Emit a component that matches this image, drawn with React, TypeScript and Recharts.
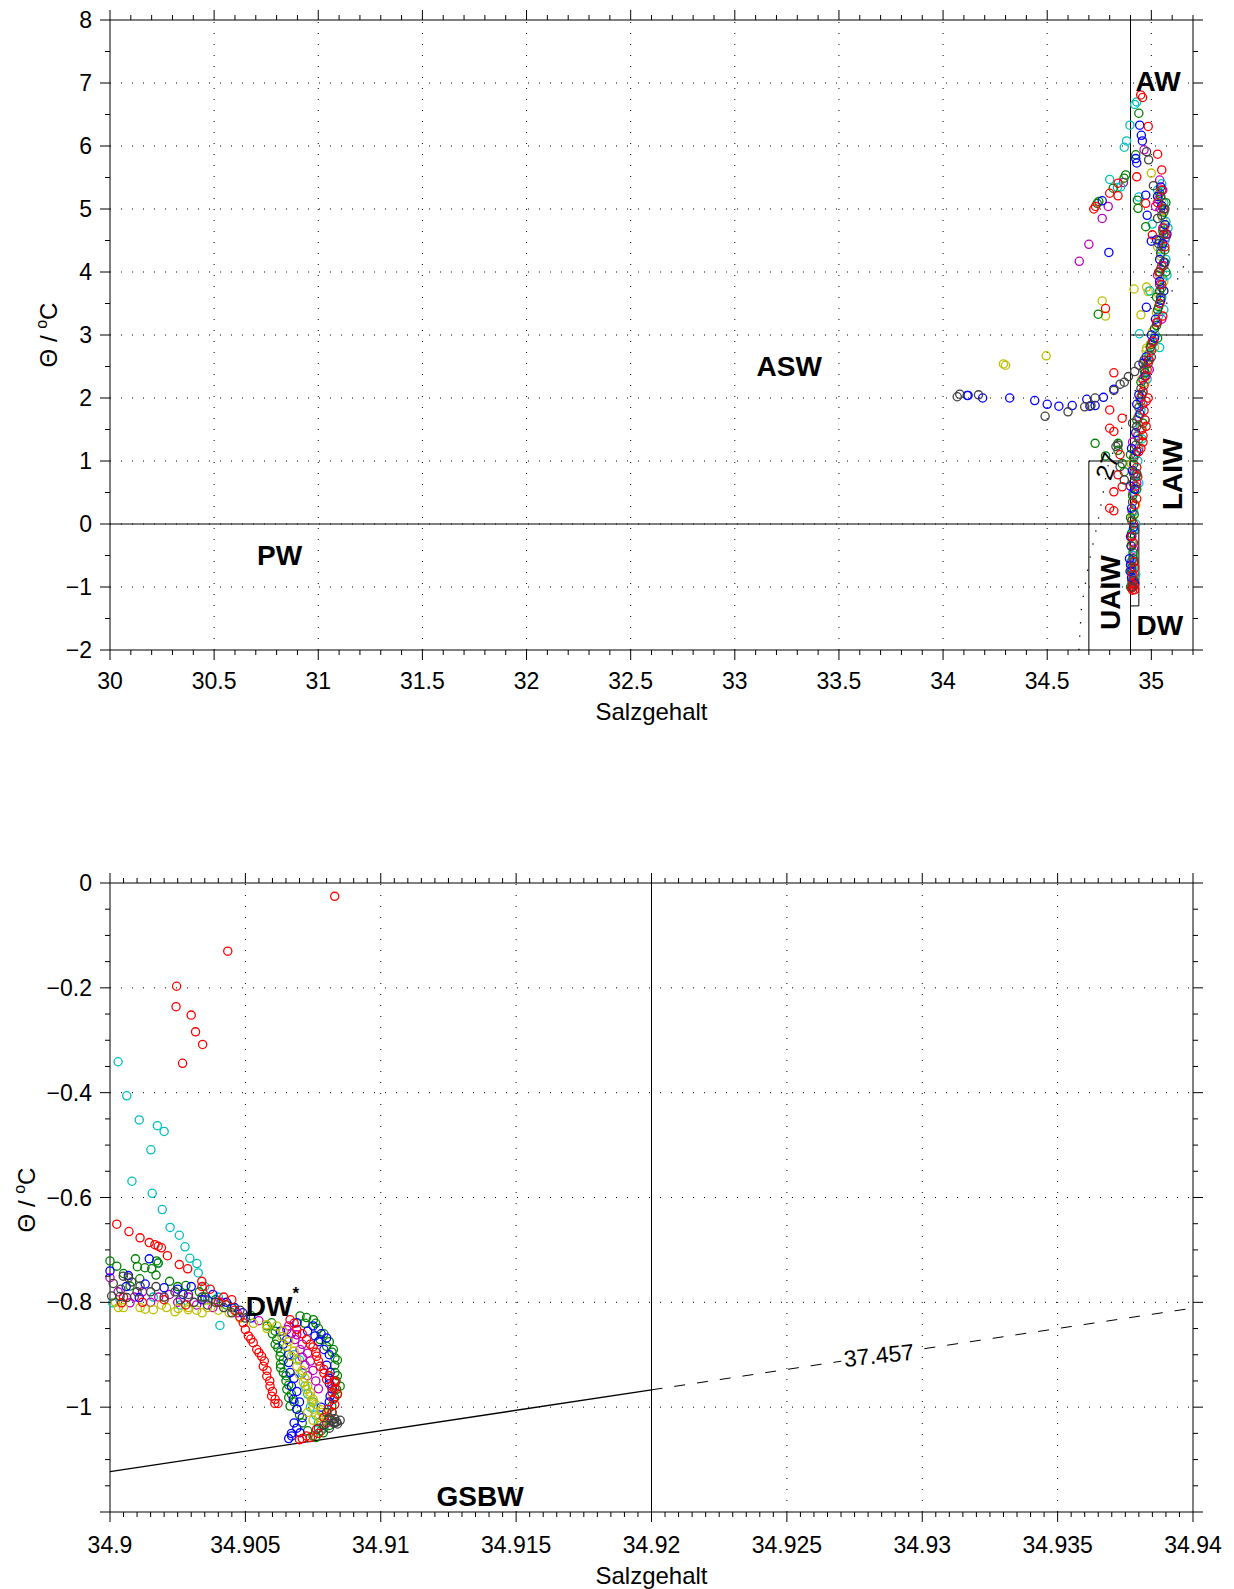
import React from "react";
import { ScatterChart, Scatter, XAxis, YAxis, ReferenceLine, ReferenceDot, Label } from "recharts";

type Pt = [number, number];

// ---------- oberes Diagramm (Salzgehalt 30..35.2, Theta -2..8) ----------
const TOP_RED: Pt[] = [
  [34.949, 6.81], [34.958, 6.77], [34.985, 6.31], [35.03, 5.87], [34.93, 5.51], [35.05, 5.62], [34.84, 5.41],
  [34.8, 5.25], [34.84, 5.21], [34.732, 5.04], [34.724, 5.0], [34.973, 5.09], [35.005, 4.59], [34.78, 3.42],
  [34.82, 2.4], [34.8, 1.81], [34.86, 1.68], [34.8, 1.52], [34.82, 1.47], [34.85, 1.1], [34.84, 0.78],
  [34.82, 0.51], [34.86, 0.59], [34.8, 0.25], [34.82, 0.21],
  [35.05, 5.3], [35.06, 5.0], [35.06, 4.7], [35.065, 4.4], [35.05, 4.1], [35.05, 3.8], [35.04, 3.5],
  [35.025, 3.2], [35.01, 2.9], [34.99, 2.6], [34.975, 2.35], [34.965, 2.2], [34.96, 2.1], [34.975, 1.95],
  [34.965, 1.8], [34.97, 1.65], [34.955, 1.5], [34.96, 1.4], [34.96, 1.3], [34.94, 1.15], [34.93, 0.9],
  [34.925, 0.6], [34.92, 0.3], [34.915, 0.0], [34.915, -0.3], [34.915, -0.6], [34.912, -0.8], [34.915, -0.9],
  [34.91, -0.95], [34.912, -1.0], [34.91, -1.05], [34.905, -1.02],
  [35.03, 5.1], [35.07, 4.6], [35.035, 4.0], [35.055, 3.3], [35.0, 2.75], [34.98, 2.45], [34.985, 2.0],
  [34.975, 1.55], [34.95, 1.2], [34.935, 0.75], [34.93, 0.4], [34.905, -0.2], [34.92, -0.7], [34.918, -0.98],
  [34.92, -1.04],
];
const TOP_BLUE: Pt[] = [
  [34.944, 6.33], [34.952, 6.17], [34.957, 6.08], [34.925, 5.8], [34.93, 5.73], [34.764, 5.13], [34.796, 4.31],
  [34.973, 5.22], [34.98, 4.9], [35.0, 4.49], [35.025, 4.51], [34.976, 3.44], [34.116, 2.04], [34.12, 2.04],
  [34.19, 2.0], [34.32, 2.0], [34.44, 1.96], [34.5, 1.9], [34.556, 1.87], [34.62, 1.88], [34.69, 1.98],
  [34.705, 1.87], [34.73, 1.88], [34.77, 2.01], [34.82, 2.14],
  [35.045, 5.35], [35.05, 5.05], [35.065, 4.75], [35.055, 4.45], [35.06, 4.15], [35.04, 3.85], [35.045, 3.55],
  [35.02, 3.25], [35.015, 2.95], [34.975, 2.65], [34.97, 2.35], [34.94, 2.05], [34.945, 1.75], [34.925, 1.45],
  [34.93, 1.15], [34.91, 0.85], [34.92, 0.55], [34.905, 0.25], [34.915, -0.05], [34.903, -0.35], [34.895, -0.55],
  [34.9, -0.65], [34.905, -0.85], [34.91, -1.0],
  [35.03, 5.2], [35.075, 4.6], [35.04, 4.2], [35.06, 3.7], [35.0, 3.0], [34.96, 2.55], [34.93, 1.9],
  [34.905, 1.2], [34.9, 0.6], [34.9, -0.2], [34.898, -0.75], [34.92, -0.95],
];
const TOP_GREEN: Pt[] = [
  [34.94, 6.52], [34.925, 5.86], [34.877, 5.54], [34.869, 5.49], [34.817, 5.33], [34.748, 5.12], [34.74, 5.09],
  [34.933, 5.14], [34.936, 5.01], [34.973, 4.72], [34.745, 3.33], [34.73, 1.28], [34.78, 1.08], [34.84, 1.28],
  [34.84, 1.17], [34.86, 0.96], [34.87, 0.83],
  [35.04, 5.25], [35.06, 4.95], [35.055, 4.65], [35.065, 4.35], [35.045, 4.05], [35.05, 3.75], [35.035, 3.45],
  [35.025, 3.15], [35.0, 2.85], [34.985, 2.55], [34.95, 2.25], [34.95, 1.95], [34.93, 1.65], [34.94, 1.35],
  [34.915, 1.05], [34.925, 0.75], [34.91, 0.45], [34.918, 0.15], [34.905, -0.15], [34.912, -0.45], [34.904, -0.75],
  [34.91, -0.95],
  [35.07, 5.1], [35.04, 4.5], [35.07, 4.0], [35.025, 3.6], [35.03, 2.95], [34.97, 2.4], [34.96, 1.6],
  [34.9, 1.1], [34.93, 0.55], [34.9, 0.1], [34.918, -0.6], [34.9, -1.0],
];
const TOP_CYAN: Pt[] = [
  [34.93, 6.7], [34.92, 6.66], [34.897, 6.33], [34.881, 6.08], [34.87, 5.98], [34.8, 5.47], [34.853, 5.35],
  [34.837, 5.34], [34.94, 5.19], [35.005, 4.76], [34.993, 3.7], [34.943, 3.02],
  [35.05, 5.4], [35.06, 5.1], [35.07, 4.8], [35.065, 4.5], [35.07, 4.2], [35.055, 3.9], [35.05, 3.6],
  [35.035, 3.3], [35.02, 3.0], [34.99, 2.7], [34.97, 2.4], [34.96, 2.1], [34.95, 1.8], [34.945, 1.5],
  [34.94, 1.2], [34.935, 1.0], [34.925, 0.8], [34.92, 0.5], [34.915, 0.2], [34.912, -0.1], [34.91, -0.3],
  [34.912, -0.5], [34.913, -0.7], [34.912, -0.85], [34.914, -1.0],
  [35.03, 5.3], [35.08, 4.7], [35.045, 4.35], [35.075, 3.95], [35.06, 3.4], [35.04, 2.8], [34.98, 2.3],
  [34.97, 1.65], [34.955, 1.35], [34.94, 0.65], [34.925, 0.0], [34.902, -0.6], [34.925, -0.8], [34.905, -0.95],
];
const TOP_MAGENTA: Pt[] = [
  [34.965, 5.94], [35.04, 5.46], [34.866, 5.42], [34.793, 5.04], [34.764, 4.85], [34.7, 4.44], [34.654, 4.17],
  [35.02, 5.04],
  [35.055, 5.3], [35.045, 5.0], [35.055, 4.7], [35.05, 4.4], [35.06, 4.1], [35.04, 3.8], [35.04, 3.5],
  [35.03, 3.2], [35.005, 2.9], [34.985, 2.6], [34.96, 2.3], [34.95, 2.0], [34.94, 1.7], [34.935, 1.4],
  [34.925, 1.1], [34.915, 0.8], [34.912, 0.5], [34.908, 0.2], [34.906, -0.2], [34.905, -0.6], [34.906, -0.9],
  [35.035, 5.15], [35.07, 4.55], [35.03, 3.95], [35.05, 3.25], [34.99, 2.45], [34.96, 1.9], [34.91, 1.3],
  [34.93, 0.65], [34.915, -0.4], [34.91, -0.75],
];
const TOP_YELLOW: Pt[] = [
  [35.0, 5.57], [34.917, 3.73], [34.977, 3.76], [34.985, 3.69], [34.764, 3.54], [34.78, 3.3], [34.95, 3.32],
  [34.977, 2.79], [34.495, 2.67], [34.3, 2.52], [34.29, 2.54],
  [35.05, 5.15], [35.055, 4.85], [35.05, 4.55], [35.045, 4.25], [35.04, 3.95], [35.035, 3.65], [35.025, 3.35],
  [35.005, 3.05], [34.995, 2.85], [34.975, 2.75], [34.985, 2.7], [34.975, 2.6], [34.97, 2.5], [34.955, 2.3],
  [34.945, 2.0], [34.935, 1.7], [34.93, 1.4], [34.92, 1.1], [34.915, 0.8], [34.91, 0.45], [34.908, 0.1],
  [34.906, -0.3], [34.905, -0.7], [34.908, -0.95],
  [35.07, 4.75], [35.03, 4.4], [35.06, 3.85], [35.015, 2.8], [34.97, 2.25], [34.95, 1.5], [34.905, 0.95],
  [34.925, 0.3], [34.915, -0.5], [34.915, -0.85],
];
const TOP_GRAY: Pt[] = [
  [34.977, 5.91], [34.987, 5.78], [35.01, 5.37], [35.03, 4.85], [34.068, 2.02], [34.08, 2.06], [34.17, 2.05],
  [34.49, 1.71], [34.6, 1.78], [34.68, 1.86], [34.71, 1.88], [34.73, 2.0], [34.82, 2.12], [34.85, 2.22],
  [34.87, 2.25], [34.89, 2.34], [34.92, 2.42], [34.94, 2.52], [34.965, 2.6], [34.83, 1.23], [34.84, 1.25],
  [34.85, 0.91], [34.87, 0.7],
  [35.045, 5.2], [35.05, 4.9], [35.06, 4.6], [35.045, 4.3], [35.04, 4.0], [35.04, 3.7], [35.03, 3.4],
  [35.015, 3.1], [34.995, 2.8], [34.965, 2.45], [34.95, 2.15], [34.94, 1.85], [34.93, 1.55], [34.925, 1.25],
  [34.915, 0.95], [34.912, 0.65], [34.91, 0.35], [34.906, 0.05], [34.904, -0.35], [34.905, -0.7], [34.907, -1.0],
  [35.065, 5.0], [35.035, 4.45], [35.065, 4.15], [35.045, 3.6], [35.0, 2.65], [34.955, 2.05], [34.91, 1.6],
  [34.93, 0.8], [34.92, -0.1], [34.912, -0.55], [34.915, -0.9],
];

// ---------- unteres Diagramm (Salzgehalt 34.9..34.94, Theta -1.2..0) ----------
const BOT_RED: Pt[] = [
  [34.9083, -0.0255], [34.90435, -0.13], [34.90246, -0.197], [34.90244, -0.236], [34.903, -0.252], [34.90316, -0.284],
  [34.90342, -0.308], [34.90268, -0.344], [34.90025, -0.651], [34.9007, -0.665], [34.90111, -0.677], [34.90145, -0.686],
  [34.90166, -0.69], [34.90178, -0.693], [34.9019, -0.696], [34.90212, -0.711], [34.90256, -0.728], [34.90287, -0.736],
  [34.90339, -0.76], [34.90043, -0.801], [34.9037, -0.775], [34.9042, -0.79], [34.9046, -0.815], [34.9048, -0.828],
  [34.90492, -0.839], [34.905, -0.852], [34.90511, -0.864], [34.9052, -0.87], [34.90529, -0.877], [34.90542, -0.89],
  [34.9055, -0.896], [34.9056, -0.903], [34.9057, -0.912], [34.90566, -0.922], [34.9058, -0.93], [34.90579, -0.941],
  [34.9059, -0.95], [34.90591, -0.96], [34.906, -0.97], [34.90597, -0.979], [34.9061, -0.985], [34.90609, -0.993],
  [34.90621, -0.993],
  [34.90665, -0.833], [34.9069, -0.852], [34.90726, -0.871], [34.9075, -0.885], [34.90763, -0.903], [34.90776, -0.922],
  [34.9079, -0.935], [34.908, -0.947], [34.90819, -0.96], [34.9082, -0.972], [34.90825, -0.985], [34.90806, -1.004],
  [34.9079, -1.02], [34.90763, -1.042], [34.90726, -1.055], [34.9071, -1.06], [34.90832, -0.953], [34.9083, -0.965],
  [34.9005, -0.79], [34.9012, -0.8], [34.902, -0.795], [34.9028, -0.805], [34.9034, -0.77], [34.904, -0.8],
  [34.9045, -0.795],
  [34.9068, -0.84], [34.9071, -0.86], [34.9074, -0.88], [34.9076, -0.895], [34.9077, -0.912], [34.9079, -0.928],
  [34.9081, -0.94], [34.9083, -0.95], [34.9084, -0.975], [34.9083, -0.995], [34.9082, -1.01], [34.908, -1.03],
  [34.9077, -1.05], [34.9074, -1.058], [34.907, -1.062],
];
const BOT_CYAN: Pt[] = [
  [34.9003, -0.341], [34.90062, -0.406], [34.90108, -0.452], [34.90175, -0.463], [34.902, -0.474], [34.90151, -0.509],
  [34.90081, -0.569], [34.90156, -0.592], [34.90193, -0.623], [34.90222, -0.657], [34.90256, -0.672], [34.90277, -0.694],
  [34.90295, -0.716], [34.90321, -0.726], [34.90326, -0.744], [34.9001, -0.801], [34.90178, -0.725], [34.9035, -0.77],
  [34.904, -0.79], [34.9045, -0.81], [34.90406, -0.844], [34.9068, -0.9], [34.9072, -0.96], [34.9074, -1.0],
  [34.9077, -1.03],
  [34.9016, -0.79], [34.9026, -0.805], [34.9036, -0.795],
  [34.907, -0.91], [34.9071, -0.935], [34.9073, -0.975], [34.9075, -0.99], [34.9076, -1.015], [34.9079, -1.04],
];
const BOT_GREEN: Pt[] = [
  [34.9, -0.721], [34.90025, -0.731], [34.90094, -0.717], [34.90101, -0.732], [34.90129, -0.734], [34.90154, -0.736],
  [34.90172, -0.721], [34.90178, -0.725], [34.90074, -0.769], [34.9025, -0.77], [34.9035, -0.79], [34.9045, -0.81],
  [34.9052, -0.825], [34.90597, -0.839], [34.9061, -0.855], [34.90616, -0.871], [34.9062, -0.887], [34.90628, -0.903],
  [34.9063, -0.918], [34.9064, -0.934], [34.9065, -0.95], [34.90653, -0.966], [34.9066, -0.982], [34.90665, -0.998],
  [34.9069, -1.004], [34.90702, -0.826], [34.90726, -0.829], [34.90751, -0.833], [34.9077, -0.85], [34.90776, -0.871],
  [34.908, -0.884], [34.90825, -0.89], [34.90831, -0.906], [34.9083, -0.92], [34.90831, -0.934], [34.90835, -0.95],
  [34.90837, -0.966], [34.9083, -0.982], [34.90819, -0.998], [34.90806, -1.023], [34.90788, -1.049], [34.9076, -1.058],
  [34.9005, -0.745], [34.9011, -0.755], [34.9017, -0.748], [34.9022, -0.76], [34.9028, -0.768], [34.9033, -0.78],
  [34.9039, -0.795], [34.9043, -0.805],
  [34.9058, -0.845], [34.906, -0.86], [34.9061, -0.88], [34.9063, -0.895], [34.9064, -0.91], [34.9063, -0.925],
  [34.9065, -0.94], [34.9066, -0.958], [34.9067, -0.975], [34.9068, -0.99], [34.907, -1.015], [34.9071, -1.03],
  [34.9073, -1.045], [34.9075, -1.055],
  [34.9072, -0.84], [34.9076, -0.84], [34.9079, -0.86], [34.9081, -0.875], [34.9082, -0.895], [34.9084, -0.91],
  [34.9084, -0.94], [34.9085, -0.96], [34.9084, -0.975], [34.9082, -1.01], [34.9081, -1.035], [34.9078, -1.045],
];
const BOT_BLUE: Pt[] = [
  [34.90145, -0.717], [34.9, -0.74], [34.90068, -0.749], [34.90108, -0.791], [34.9025, -0.775], [34.9034, -0.795],
  [34.9043, -0.8], [34.9049, -0.82], [34.9069, -0.839], [34.90653, -0.871], [34.9066, -0.9], [34.90665, -0.934],
  [34.9067, -0.96], [34.90677, -0.985], [34.9069, -1.004], [34.9068, -1.03], [34.90671, -1.055], [34.90702, -1.049],
  [34.9066, -1.06], [34.9075, -0.845], [34.90757, -0.864], [34.9078, -0.86], [34.908, -0.868], [34.9081, -0.9],
  [34.90813, -0.934], [34.9081, -0.955], [34.90813, -0.979],
  [34.9006, -0.77], [34.9013, -0.765], [34.902, -0.772], [34.9027, -0.785], [34.903, -0.77], [34.9038, -0.785],
  [34.9046, -0.81], [34.9052, -0.83],
  [34.9063, -0.855], [34.9064, -0.88], [34.9066, -0.915], [34.9068, -0.945], [34.9069, -0.97], [34.907, -0.99],
  [34.9071, -1.02], [34.9069, -1.04], [34.9067, -1.05], [34.9073, -0.855], [34.9077, -0.875], [34.9079, -0.89],
  [34.908, -0.92], [34.9081, -0.945], [34.9082, -0.965], [34.9081, -0.99], [34.9078, -1.0],
];
const BOT_YELLOW: Pt[] = [
  [34.9002, -0.8], [34.90031, -0.81], [34.90111, -0.81], [34.9016, -0.814], [34.90209, -0.81], [34.90252, -0.812],
  [34.90289, -0.814], [34.9032, -0.815], [34.9036, -0.81], [34.904, -0.815], [34.9044, -0.82], [34.9048, -0.83],
  [34.9053, -0.84], [34.90578, -0.843], [34.90616, -0.845], [34.90635, -0.865], [34.90653, -0.884], [34.9067, -0.903],
  [34.9069, -0.922], [34.907, -0.938], [34.90714, -0.953], [34.90725, -0.966], [34.90739, -0.979], [34.90745, -0.99],
  [34.90751, -1.004], [34.90782, -1.01], [34.9077, -1.02],
  [34.9005, -0.81], [34.9013, -0.813], [34.9019, -0.805], [34.9024, -0.818], [34.9029, -0.81], [34.9034, -0.82],
  [34.9058, -0.85],
  [34.9064, -0.855], [34.9066, -0.875], [34.9068, -0.893], [34.9069, -0.91], [34.9071, -0.93], [34.9072, -0.945],
  [34.9073, -0.96], [34.9074, -0.972], [34.9075, -0.985], [34.9076, -0.995], [34.9078, -1.005], [34.908, -1.012],
  [34.9073, -1.01], [34.9075, -1.025], [34.9078, -1.03],
];
const BOT_MAGENTA: Pt[] = [
  [34.9, -0.753], [34.90074, -0.801], [34.9012, -0.78], [34.9018, -0.79], [34.9025, -0.8], [34.9032, -0.805],
  [34.9038, -0.81], [34.90653, -0.852], [34.9067, -0.86], [34.90683, -0.871], [34.90702, -0.89], [34.9071, -0.905],
  [34.9072, -0.92], [34.9073, -0.94],
  [34.9003, -0.78], [34.9009, -0.79], [34.9015, -0.8], [34.9022, -0.785], [34.9029, -0.79], [34.9035, -0.795],
  [34.9041, -0.8], [34.9047, -0.82], [34.9055, -0.835],
  [34.9066, -0.845], [34.9069, -0.862], [34.9071, -0.88], [34.9073, -0.897], [34.9074, -0.912], [34.9075, -0.93],
  [34.9076, -0.95], [34.9077, -0.965],
];
const BOT_GRAY: Pt[] = [
  [34.90049, -0.75], [34.90068, -0.753], [34.9008, -0.761], [34.90012, -0.764], [34.90111, -0.769], [34.90006, -0.788],
  [34.90037, -0.789], [34.90062, -0.791], [34.9015, -0.78], [34.902, -0.79], [34.9026, -0.795], [34.9031, -0.8],
  [34.9036, -0.805], [34.9042, -0.81], [34.9048, -0.815], [34.908, -1.01], [34.9081, -1.02], [34.9082, -1.025],
  [34.90825, -1.03], [34.9083, -1.03], [34.90837, -1.028],
  [34.9004, -0.775], [34.901, -0.78], [34.9017, -0.77], [34.9024, -0.78], [34.9029, -0.785], [34.9034, -0.79],
  [34.9039, -0.8], [34.9045, -0.82], [34.905, -0.83],
  [34.9079, -1.035], [34.9081, -1.04], [34.9084, -1.032], [34.9085, -1.025], [34.9083, -1.022], [34.9077, -1.04],
];

// isopyknen
const TOP_SIGMA: Pt[] = [[34.652, -2.0], [34.665, -1.31], [34.7, -0.62], [34.745, 0.06], [34.79, 0.9], [35.08, 3.56], [35.2, 4.41]];
const BOT_SIGMA_SOLID: Pt[] = [[34.9, -1.123], [34.92, -0.967]];
const BOT_SIGMA_DASH: Pt[] = [[34.92, -0.967], [34.94, -0.811]];

// achsen
const TOP_X_LABELS = [30, 30.5, 31, 31.5, 32, 32.5, 33, 33.5, 34, 34.5, 35];
const TOP_Y_LABELS = [-2, -1, 0, 1, 2, 3, 4, 5, 6, 7, 8];
const BOT_X_LABELS = [34.9, 34.905, 34.91, 34.915, 34.92, 34.925, 34.93, 34.935, 34.94];
const BOT_Y_LABELS = [0, -0.2, -0.4, -0.6, -0.8, -1];

const FONT = '"Liberation Sans", Arial, Helvetica, sans-serif';
const TICK_FS = 23;
const TITLE_FS = 24;
const COL = {
  red: "#ff0000", blue: "#0000ff", green: "#008000", cyan: "#00bfbf",
  magenta: "#bf00bf", yellow: "#bfbf00", gray: "#404040",
};

const toData = (pts: Pt[]) => pts.map(([s, t]) => ({ s, t }));

function steps(a: number, b: number, d: number) {
  const out: number[] = [];
  const n = Math.round((b - a) / d);
  for (let i = 0; i <= n; i++) out.push(+(a + i * d).toFixed(6));
  return out;
}
const near = (list: number[], v: number) => list.some((m) => Math.abs(m - v) < 1e-7);
const fmt = (v: number) => (v < 0 ? "\u2212" + String(Math.abs(v)) : String(v));

function tickFn(side: string, majors: number[], labels: number[], off: number) {
  return (p: any) => {
    const { x, y, payload } = p;
    const v = Number(payload.value);
    const len = near(majors, v) ? 10 : 5;
    const lab = near(labels, v) ? fmt(v) : null;
    if (side === "bottom")
      return (
        <g>
          <line x1={x} x2={x} y1={y} y2={y + len} stroke="#000" />
          {lab && (
            <text x={x} y={y + off} textAnchor="middle" dominantBaseline="central" fontSize={TICK_FS} fontFamily={FONT} fill="#000">
              {lab}
            </text>
          )}
        </g>
      );
    if (side === "top") return <line x1={x} x2={x} y1={y} y2={y - len} stroke="#000" />;
    if (side === "left")
      return (
        <g>
          <line x1={x} x2={x - len} y1={y} y2={y} stroke="#000" />
          {lab && (
            <text x={x - off} y={y} textAnchor="end" dominantBaseline="central" fontSize={TICK_FS} fontFamily={FONT} fill="#000">
              {lab}
            </text>
          )}
        </g>
      );
    return <line x1={x} x2={x + len} y1={y} y2={y} stroke="#000" />;
  };
}

const ring = (color: string) => (p: any) =>
  <circle cx={p.cx} cy={p.cy} r={4.1} fill="none" stroke={color} strokeWidth={1.3} />;

const noDot = () => <g />;

const word = (txt: string, size: number, rot = 0, bold = true) => (p: any) => (
  <text
    x={p.cx}
    y={p.cy}
    transform={rot ? `rotate(${rot},${p.cx},${p.cy})` : undefined}
    textAnchor="middle"
    dominantBaseline="central"
    fontSize={size}
    fontWeight={bold ? "bold" : "normal"}
    fontFamily={FONT}
    fill="#000"
  >
    {txt}
  </text>
);

const dwStar = (p: any) => (
  <text x={p.cx} y={p.cy} textAnchor="middle" dominantBaseline="central" fontSize={28} fontWeight="bold" fontFamily={FONT}>
    DW<tspan dy={-13} fontSize={17}>*</tspan>
  </text>
);

const isoLabel = (p: any) => (
  <g transform={`translate(${p.cx},${p.cy}) rotate(-6)`}>
    <rect x={-38} y={-11} width={76} height={22} fill="#fff" />
    <text x={0} y={0} textAnchor="middle" dominantBaseline="central" fontSize={TICK_FS} fontFamily={FONT}>
      37.457
    </text>
  </g>
);

const thetaTitle = (x: number, y: number) => () => (
  <text transform={`translate(${x},${y}) rotate(-90)`} textAnchor="middle" fontSize={TITLE_FS} fontFamily={FONT} fill="#000">
    {"\u0398 / "}
    <tspan dy={-10} fontSize={16}>o</tspan>
    <tspan dy={10}>C</tspan>
  </text>
);

const xTitle = (x: number, y: number) => () => (
  <text x={x} y={y} textAnchor="middle" fontSize={TITLE_FS} fontFamily={FONT} fill="#000">
    Salzgehalt
  </text>
);

const TOP_SERIES = [
  { key: "y", color: COL.yellow, pts: TOP_YELLOW },
  { key: "m", color: COL.magenta, pts: TOP_MAGENTA },
  { key: "c", color: COL.cyan, pts: TOP_CYAN },
  { key: "g", color: COL.green, pts: TOP_GREEN },
  { key: "b", color: COL.blue, pts: TOP_BLUE },
  { key: "r", color: COL.red, pts: TOP_RED },
  { key: "k", color: COL.gray, pts: TOP_GRAY },
];
const BOT_SERIES = [
  { key: "c", color: COL.cyan, pts: BOT_CYAN },
  { key: "m", color: COL.magenta, pts: BOT_MAGENTA },
  { key: "g", color: COL.green, pts: BOT_GREEN },
  { key: "b", color: COL.blue, pts: BOT_BLUE },
  { key: "y", color: COL.yellow, pts: BOT_YELLOW },
  { key: "r", color: COL.red, pts: BOT_RED },
  { key: "k", color: COL.gray, pts: BOT_GRAY },
];

const dotted = { stroke: "#000", strokeWidth: 1, strokeDasharray: "1 10" };
const solid = { stroke: "#000", strokeWidth: 1 };

function TopChart() {
  const xt = steps(30, 35.2, 0.1);
  const yt = steps(-2, 8, 0.5);
  return (
    <ScatterChart width={1234} height={740} margin={{ top: 19, right: 40, bottom: 0, left: 0 }}>
      <XAxis type="number" dataKey="s" domain={[30, 35.2]} ticks={xt} interval={0} height={90} tickSize={0} tickMargin={0}
        tickLine={false} axisLine={solid} tick={tickFn("bottom", TOP_X_LABELS, TOP_X_LABELS, 31)}>
        <Label content={xTitle(651.5, 720)} />
      </XAxis>
      <XAxis xAxisId="top" orientation="top" type="number" dataKey="s" domain={[30, 35.2]} ticks={xt} interval={0} height={1}
        tickSize={0} tickMargin={0} tickLine={false} axisLine={solid} tick={tickFn("top", TOP_X_LABELS, [], 0)} />
      <YAxis type="number" dataKey="t" domain={[-2, 8]} ticks={yt} interval={0} width={110} tickSize={0} tickMargin={0}
        tickLine={false} axisLine={solid} tick={tickFn("left", TOP_Y_LABELS, TOP_Y_LABELS, 18)}>
        <Label content={thetaTitle(57, 335)} />
      </YAxis>
      <YAxis yAxisId="right" orientation="right" type="number" dataKey="t" domain={[-2, 8]} ticks={yt} interval={0} width={1}
        tickSize={0} tickMargin={0} tickLine={false} axisLine={solid} tick={tickFn("right", TOP_Y_LABELS, [], 0)} />

      {TOP_X_LABELS.slice(1).map((v) => <ReferenceLine key={"gx" + v} x={v} {...dotted} />)}
      {TOP_Y_LABELS.slice(1, -1).map((v) => <ReferenceLine key={"gy" + v} y={v} {...dotted} />)}

      <ReferenceLine y={0} {...solid} />
      <ReferenceLine segment={[{ x: 34.9, y: -2 }, { x: 34.9, y: 8 }]} {...solid} />
      <ReferenceLine segment={[{ x: 34.9, y: 3 }, { x: 35.2, y: 3 }]} {...solid} />
      <ReferenceLine segment={[{ x: 34.7, y: -2 }, { x: 34.7, y: 1 }]} {...solid} />
      <ReferenceLine segment={[{ x: 34.7, y: 1 }, { x: 34.9, y: 1 }]} {...solid} />
      <ReferenceLine segment={[{ x: 34.94, y: -1.3 }, { x: 34.94, y: 0 }]} {...solid} />
      <ReferenceLine segment={[{ x: 34.9, y: -1.3 }, { x: 34.94, y: -1.3 }]} {...solid} />

      {/* invisible copy bound to the mirrored top/right axes so they get their ticks */}
      <Scatter xAxisId="top" yAxisId="right" data={toData(TOP_SIGMA)} shape={noDot} isAnimationActive={false} />

      <Scatter data={toData(TOP_SIGMA)} shape={noDot} isAnimationActive={false}
        line={{ stroke: "#000", strokeWidth: 1.3, strokeDasharray: "1.3 12" }} />

      {TOP_SERIES.map((sr) => (
        <Scatter key={sr.key} data={toData(sr.pts)} shape={ring(sr.color)} isAnimationActive={false} />
      ))}

      <ReferenceDot x={35.032} y={7.03} r={0} shape={word("AW", 28)} />
      <ReferenceDot x={33.261} y={2.497} r={0} shape={word("ASW", 28)} />
      <ReferenceDot x={30.814} y={-0.495} r={0} shape={word("PW", 28)} />
      <ReferenceDot x={35.1} y={0.79} r={0} shape={word("LAIW", 28, -90)} />
      <ReferenceDot x={34.803} y={-1.09} r={0} shape={word("UAIW", 28, -90)} />
      <ReferenceDot x={35.041} y={-1.605} r={0} shape={word("DW", 28)} />
      <ReferenceDot x={34.788} y={0.92} r={0} shape={word("27", 24, -70, false)} />
    </ScatterChart>
  );
}

function BottomChart() {
  const xt = steps(34.9, 34.94, 0.0005);
  const yt = steps(-1.2, 0, 0.05);
  const yMajor = [...BOT_Y_LABELS, -1.2];
  return (
    <ScatterChart width={1234} height={829} margin={{ top: 122, right: 40, bottom: 0, left: 0 }}>
      <XAxis type="number" dataKey="s" domain={[34.9, 34.94]} ticks={xt} interval={0} height={77} tickSize={0} tickMargin={0}
        tickLine={false} axisLine={solid} tick={tickFn("bottom", BOT_X_LABELS, BOT_X_LABELS, 33)}>
        <Label content={xTitle(651.5, 824)} />
      </XAxis>
      <XAxis xAxisId="top" orientation="top" type="number" dataKey="s" domain={[34.9, 34.94]} ticks={xt} interval={0} height={1}
        tickSize={0} tickMargin={0} tickLine={false} axisLine={solid} tick={tickFn("top", BOT_X_LABELS, [], 0)} />
      <YAxis type="number" dataKey="t" domain={[-1.2, 0]} ticks={yt} interval={0} width={110} tickSize={0} tickMargin={0}
        tickLine={false} axisLine={solid} tick={tickFn("left", yMajor, BOT_Y_LABELS, 18)}>
        <Label content={thetaTitle(35, 440)} />
      </YAxis>
      <YAxis yAxisId="right" orientation="right" type="number" dataKey="t" domain={[-1.2, 0]} ticks={yt} interval={0} width={1}
        tickSize={0} tickMargin={0} tickLine={false} axisLine={solid} tick={tickFn("right", yMajor, [], 0)} />

      {BOT_X_LABELS.slice(1, -1).filter((v) => v !== 34.92).map((v) => <ReferenceLine key={"gx" + v} x={v} {...dotted} />)}
      {BOT_Y_LABELS.slice(1).map((v) => <ReferenceLine key={"gy" + v} y={v} {...dotted} />)}
      <ReferenceLine x={34.92} {...solid} />

      {/* invisible copy bound to the mirrored top/right axes so they get their ticks */}
      <Scatter xAxisId="top" yAxisId="right" data={toData(BOT_SIGMA_SOLID)} shape={noDot} isAnimationActive={false} />

      <Scatter data={toData(BOT_SIGMA_SOLID)} shape={noDot} isAnimationActive={false}
        line={{ stroke: "#000", strokeWidth: 1.4 }} />
      <Scatter data={toData(BOT_SIGMA_DASH)} shape={noDot} isAnimationActive={false}
        line={{ stroke: "#000", strokeWidth: 1, strokeDasharray: "11 12" }} />

      {BOT_SERIES.map((sr) => (
        <Scatter key={sr.key} data={toData(sr.pts)} shape={ring(sr.color)} isAnimationActive={false} />
      ))}

      <ReferenceDot x={34.9284} y={-0.901} r={0} shape={isoLabel} />
      <ReferenceDot x={34.906} y={-0.8076} r={0} shape={dwStar} />
      <ReferenceDot x={34.91367} y={-1.171} r={0} shape={word("GSBW", 28)} />
    </ScatterChart>
  );
}

export default function App() {
  return (
    <div style={{ position: "absolute", left: 0, top: 0, width: 1234, height: 1589, background: "#fff" }}>
      <div style={{ position: "absolute", left: 0, top: 0 }}>
        <TopChart />
      </div>
      <div style={{ position: "absolute", left: 0, top: 760 }}>
        <BottomChart />
      </div>
    </div>
  );
}
